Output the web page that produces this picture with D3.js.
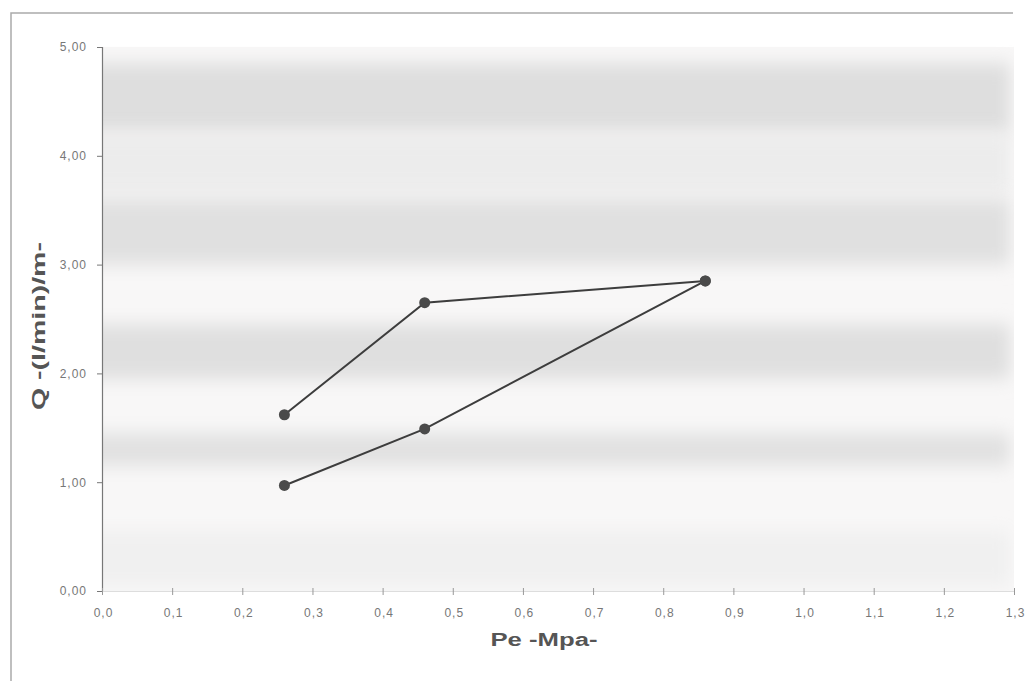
<!DOCTYPE html>
<html><head><meta charset="utf-8">
<script src="https://cdn.jsdelivr.net/npm/d3@7"></script>
<style>html,body{margin:0;padding:0;background:#fff;}</style>
</head><body>
<svg id="chart" width="1028" height="681"></svg>
<script>
// Data
const pressure = [0.26, 0.46, 0.86];          // Pe (MPa)
const flowUpper = [1.62, 2.65, 2.85];         // Q (l/min)/m - upper branch
const flowLower = [0.97, 1.49, 2.85];         // Q (l/min)/m - lower branch
const xTicks = [0,0.1,0.2,0.3,0.4,0.5,0.6,0.7,0.8,0.9,1.0,1.1,1.2,1.3];
const yTicks = [0,1,2,3,4,5];
const xTitle = "Pe -Mpa-";
const yTitle = "Q -(l/min)/m-";

const svg = d3.select("#chart");
const m = {left:102, right:1014, top:47, bottom:591};
const x = d3.scaleLinear().domain([0,1.3]).range([m.left, m.right]);
const y = d3.scaleLinear().domain([0,5]).range([m.bottom, m.top]);
const font = "Liberation Sans, Arial, sans-serif";

// outer frame (top & left)
svg.append("path").attr("d","M11,681 V13 H1013").attr("fill","none").attr("stroke","#aaa").attr("stroke-width",1.5);

// scanned-looking background bands
const defs = svg.append("defs");
defs.append("filter").attr("id","blur").attr("x","-10%").attr("y","-50%").attr("width","120%").attr("height","200%")
  .append("feGaussianBlur").attr("stdDeviation","8 9");
defs.append("clipPath").attr("id","plotclip").append("rect")
  .attr("x",m.left).attr("y",m.top-2).attr("width",m.right-m.left).attr("height",m.bottom-m.top+2);
const bg = svg.append("g").attr("clip-path","url(#plotclip)");
bg.append("rect").attr("x",m.left).attr("y",m.top).attr("width",m.right-m.left).attr("height",m.bottom-m.top).attr("fill","#f8f7f7");
const bands = [
  {v0:4.85,v1:4.2,c:"#dedede"},
  {v0:4.2,v1:3.65,c:"#ececec"},
  {v0:3.6,v1:3.0,c:"#e0e0e0"},
  {v0:2.45,v1:1.95,c:"#dfdfdf"},
  {v0:1.45,v1:1.15,c:"#e1e1e1"},
  {v0:0.55,v1:0.05,c:"#f0f0f0"}
];
bg.selectAll("rect.band").data(bands).join("rect").attr("class","band")
  .attr("x",m.left-20).attr("width",m.right-m.left+16)
  .attr("y",d=>y(d.v0)).attr("height",d=>y(d.v1)-y(d.v0))
  .attr("fill",d=>d.c).attr("filter","url(#blur)");

const fmt = (d,p)=>d3.format("."+p+"f")(d).replace(".",",");

// y axis
const yAxis = svg.append("g").attr("transform",`translate(${m.left},0)`)
  .call(d3.axisLeft(y).tickValues(yTicks).tickSize(5).tickPadding(10).tickFormat(d=>fmt(d,2)));
yAxis.select(".domain").attr("stroke","#777").attr("stroke-width",1.2);
yAxis.selectAll(".tick line").attr("stroke","#777");
yAxis.selectAll("text").attr("fill","#777").attr("font-family",font).attr("font-size",12).attr("letter-spacing","1px");

// x axis
const xAxis = svg.append("g").attr("transform",`translate(0,${m.bottom})`)
  .call(d3.axisBottom(x).tickValues(xTicks).tickSize(4).tickPadding(13).tickFormat(d=>fmt(d,1)));
xAxis.select(".domain").attr("stroke","#ddd").attr("stroke-width",1);
xAxis.selectAll(".tick line").attr("stroke","#999").attr("y1",-3);
xAxis.selectAll("text").attr("fill","#777").attr("font-family",font).attr("font-size",12).attr("letter-spacing","1px").attr("dx","1px");

// titles
svg.append("text").attr("x",544).attr("y",646).attr("text-anchor","middle")
  .attr("textLength",107).attr("lengthAdjust","spacingAndGlyphs")
  .attr("font-family",font).attr("font-weight","bold").attr("font-size",18).attr("fill","#555").text(xTitle);
svg.append("text").attr("transform","translate(45,326) rotate(-90)").attr("text-anchor","middle")
  .attr("textLength",168).attr("lengthAdjust","spacingAndGlyphs")
  .attr("font-family",font).attr("font-weight","bold").attr("font-size",18).attr("fill","#555").text(yTitle);

// series
const line = d3.line().x(d=>x(d[0])).y(d=>y(d[1]));
[flowUpper, flowLower].forEach(s=>{
  const pts = pressure.map((p,i)=>[p,s[i]]);
  svg.append("path").datum(pts).attr("d",line).attr("fill","none").attr("stroke","#3d3d3d").attr("stroke-width",2);
  svg.selectAll(null).data(pts).join("circle").attr("cx",d=>x(d[0])).attr("cy",d=>y(d[1])).attr("r",5.5).attr("fill","#4a4a4a");
});
</script>
</body></html>
